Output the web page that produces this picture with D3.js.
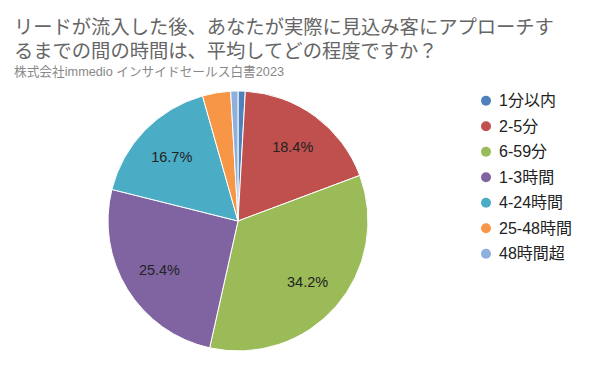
<!DOCTYPE html>
<html>
<head>
<meta charset="utf-8">
<script src="https://cdn.jsdelivr.net/npm/d3@7"></script>
<style>
  body { margin: 0; background: #fff; }
  svg text { font-family: "Liberation Sans", "Noto Sans CJK JP", sans-serif; }
</style>
</head>
<body>
<div id="chart"></div>
<script>
var categories = ['1分以内', '2-5分', '6-59分', '1-3時間', '4-24時間', '25-48時間', '48時間超'];
var values = [0.9, 18.4, 34.2, 25.4, 16.7, 3.5, 0.9];
var colors = ['#4f81bd', '#c0504d', '#9bbb59', '#8064a2', '#4bacc6', '#f79646', '#8eb0dc'];
var titleLines = ['リードが流入した後、あなたが実際に見込み客にアプローチす', 'るまでの間の時間は、平均してどの程度ですか？'];
var subtitle = '株式会社immedio インサイドセールス白書2023';

var width = 596, height = 367;
var cx = 238, cy = 221, radius = 130;

var svg = d3.select('#chart').append('svg')
    .attr('width', width)
    .attr('height', height);

// two-line wrapped title
var title = svg.append('text')
    .attr('x', 14)
    .attr('y', 34)
    .attr('fill', '#666')
    .style('font-size', '19.3px');

title.selectAll('tspan')
    .data(titleLines)
    .enter()
    .append('tspan')
    .attr('x', 14)
    .attr('dy', function(d, i) { return i === 0 ? 0 : 24; })
    .text(function(d) { return d; });

svg.append('text')
    .attr('x', 14)
    .attr('y', 75.5)
    .attr('fill', '#888')
    .style('font-size', '12.7px')
    .text(subtitle);

var pie = d3.pie().sort(null).value(function(d) { return d; });
var arcs = pie(values);

var arc = d3.arc().innerRadius(0).outerRadius(radius);
var labelArc = d3.arc().innerRadius(radius * 0.71).outerRadius(radius * 0.71);

var g = svg.append('g')
    .attr('transform', 'translate(' + cx + ',' + cy + ')');

g.selectAll('path')
    .data(arcs)
    .enter()
    .append('path')
    .attr('d', arc)
    .attr('fill', function(d, i) { return colors[i]; })
    .attr('stroke', '#fff')
    .attr('stroke-width', 1);

g.selectAll('.pct')
    .data(arcs.filter(function(d) { return d.value > 10; }))
    .enter()
    .append('text')
    .attr('class', 'pct')
    .attr('transform', function(d) { return 'translate(' + labelArc.centroid(d) + ')'; })
    .attr('text-anchor', 'middle')
    .attr('dy', '0.36em')
    .attr('fill', '#222')
    .style('font-size', '14.5px')
    .text(function(d) { return d.value.toFixed(1) + '%'; });

var legend = svg.append('g');
var rows = legend.selectAll('g')
    .data(categories)
    .enter()
    .append('g')
    .attr('transform', function(d, i) { return 'translate(486,' + (100.7 + i * 25.5) + ')'; });

rows.append('circle')
    .attr('r', 5)
    .attr('fill', function(d, i) { return colors[i]; });

rows.append('text')
    .attr('x', 13)
    .attr('dy', '0.36em')
    .attr('fill', '#222')
    .style('font-size', '16px')
    .text(function(d) { return d; });
</script>
</body>
</html>
